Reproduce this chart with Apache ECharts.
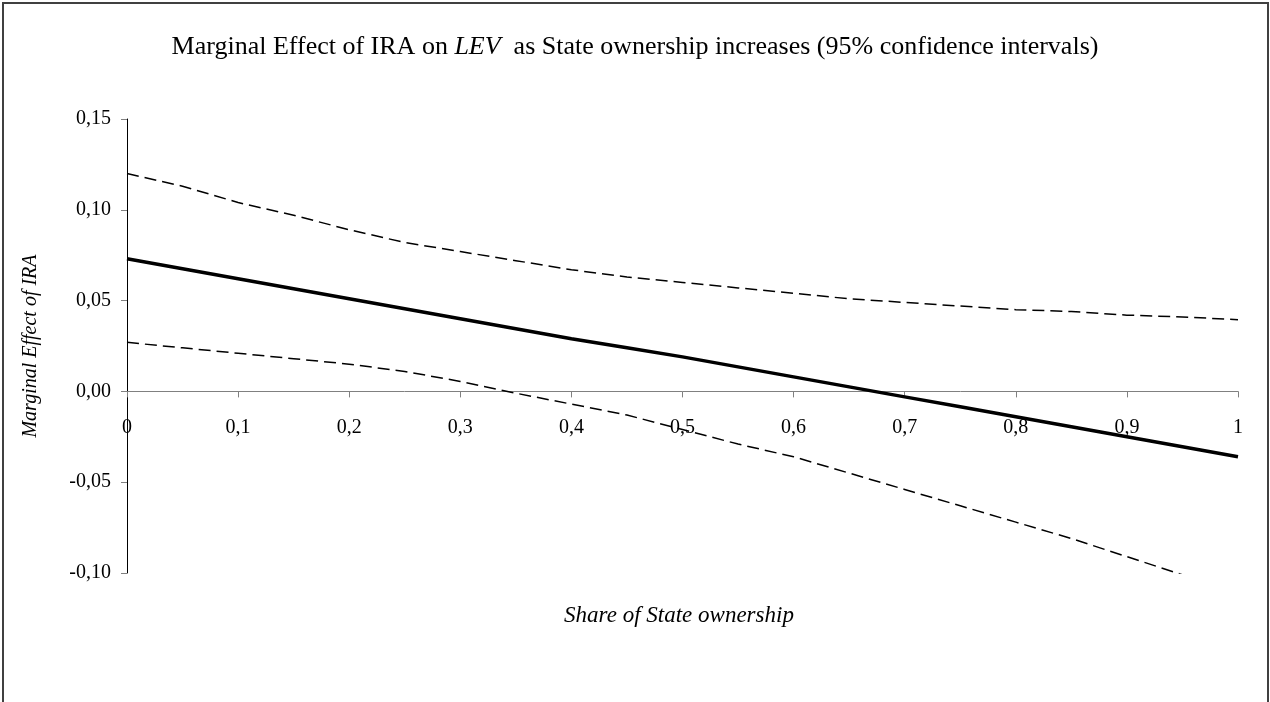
<!DOCTYPE html>
<html>
<head>
<meta charset="utf-8">
<script src="https://cdn.jsdelivr.net/npm/echarts@6/dist/echarts.min.js"></script>
<style>
html,body{margin:0;padding:0;background:#fff;}
#chart{width:1270px;height:702px;}
</style>
</head>
<body>
<div id="chart"></div>
<script>
// Share of State ownership (x values)
const shares = [0, 0.05, 0.1, 0.15, 0.2, 0.25, 0.3, 0.35, 0.4, 0.45, 0.5, 0.55, 0.6, 0.65, 0.7, 0.75, 0.8, 0.85, 0.9, 0.95, 1];
// Marginal effect estimate
const effect = [0.073, 0.0675, 0.062, 0.0565, 0.051, 0.0455, 0.040, 0.0345, 0.029, 0.024, 0.019, 0.0135, 0.008, 0.0025, -0.003, -0.0085, -0.014, -0.0195, -0.025, -0.0305, -0.036];
// Upper 95% bound
const upper = [0.120, 0.113, 0.104, 0.097, 0.089, 0.082, 0.077, 0.072, 0.067, 0.063, 0.060, 0.057, 0.054, 0.051, 0.049, 0.047, 0.045, 0.044, 0.042, 0.041, 0.0395];
// Lower 95% bound
const lower = [0.027, 0.024, 0.021, 0.018, 0.015, 0.011, 0.0055, -0.001, -0.007, -0.013, -0.021, -0.029, -0.036, -0.045, -0.054, -0.063, -0.072, -0.081, -0.091, -0.101, -0.111];

const titleText = 'Marginal Effect of IRA on ';
const titleItalic = 'LEV';
const titleRest = '  as State ownership increases (95% confidence intervals)';
const xName = 'Share of State ownership';
const yName = 'Marginal Effect of IRA';

const pair = (ys) => shares.map((x, i) => [x, ys[i]]);
const serif = '"Liberation Serif", "DejaVu Serif", serif';

const chart = echarts.init(document.getElementById('chart'));
const option = {
  animation: false,
  backgroundColor: '#fff',
  graphic: [{
    type: 'rect',
    shape: { x: 3, y: 3, width: 1265, height: 760 },
    style: { fill: 'none', stroke: '#404040', lineWidth: 2 },
    silent: true
  }],
  title: [{
    text: '{n|' + titleText + '}{i|' + titleItalic + '}{n|' + titleRest + '}',
    left: 'center',
    top: 29,
    textStyle: {
      rich: {
        n: { fontFamily: serif, fontSize: 26, fontWeight: 'normal', color: '#000' },
        i: { fontFamily: serif, fontSize: 26, fontWeight: 'normal', fontStyle: 'italic', color: '#000' }
      }
    }
  }, {
    text: xName,
    left: 674,
    top: 599,
    textAlign: 'center',
    textStyle: { fontFamily: serif, fontSize: 23, fontStyle: 'italic', fontWeight: 'normal', color: '#000' }
  }],
  grid: { left: 127, right: 32, top: 119, height: 454 },
  xAxis: {
    type: 'value',
    min: 0, max: 1, interval: 0.1,
    position: 'bottom',
    offset: 0,
    axisLine: { onZero: false, lineStyle: { color: '#808080', width: 1 } },
    axisTick: { show: true, inside: false, length: 6, lineStyle: { color: '#808080' } },
    axisLabel: {
      margin: 26,
      fontFamily: serif, fontSize: 20, color: '#000',
      formatter: (v) => String(Math.round(v * 10) / 10).replace('.', ',')
    },
    splitLine: { show: false }
  },
  yAxis: {
    type: 'value',
    min: -0.10, max: 0.15, interval: 0.05,
    name: yName,
    nameLocation: 'middle',
    nameGap: 86,
    nameTextStyle: { fontFamily: serif, fontSize: 20, fontStyle: 'italic', color: '#000' },
    axisLine: { show: true, onZero: false, lineStyle: { color: '#000', width: 1 } },
    axisTick: { show: true, length: 6, lineStyle: { color: '#808080' } },
    axisLabel: {
      margin: 16,
      fontFamily: serif, fontSize: 20, color: '#000',
      formatter: (v) => v.toFixed(2).replace('.', ',')
    },
    splitLine: { show: false }
  },
  series: [{
    type: 'line',
    data: pair(upper),
    showSymbol: false,
    clip: true,
    lineStyle: { color: '#000', width: 1.5, type: [12, 6] }
  }, {
    type: 'line',
    data: pair(effect),
    showSymbol: false,
    clip: true,
    lineStyle: { color: '#000', width: 3.5 }
  }, {
    type: 'line',
    data: pair(lower),
    showSymbol: false,
    clip: true,
    lineStyle: { color: '#000', width: 1.5, type: [12, 6] }
  }]
};
chart.setOption(option);
// Move the x axis (line, ticks, labels) up to the y = 0 level using the library's own scale
const zeroPx = chart.convertToPixel({ yAxisIndex: 0 }, 0);
const bottomPx = chart.convertToPixel({ yAxisIndex: 0 }, -0.10);
chart.setOption({ xAxis: { offset: -(bottomPx - zeroPx) } });
</script>
</body>
</html>
